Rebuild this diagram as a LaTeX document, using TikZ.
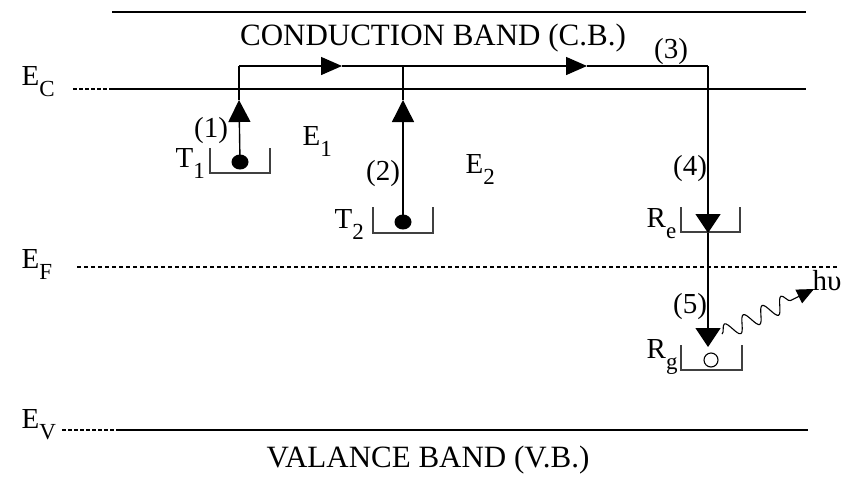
\documentclass[tikz,border=0pt]{standalone}
\usepackage{fontspec}
\setmainfont{Liberation Serif}
\usetikzlibrary{arrows.meta,decorations.pathmorphing,shapes.geometric}
\newcommand\sbx[1]{\raisebox{-0.38em}{\fontsize{23}{23}\selectfont #1}}
\begin{document}
\begin{tikzpicture}[x=1pt,y=-1pt,line width=1.4pt,
  lbl/.style={inner sep=0pt,font=\fontsize{29}{29}\selectfont},
  bandtxt/.style={inner sep=0pt,font=\fontsize{31}{31}\selectfont},
  tipup/.style={-{Triangle[length=22pt,width=22pt]}},
  tiph/.style={-{Triangle[length=21pt,width=18pt]}},
  tipdn/.style={-{Triangle[length=19pt,width=25pt]}},
  well/.style={line width=1.3pt,draw=black!75},
  dotted line/.style={dash pattern=on 4pt off 2pt,line width=1.2pt},
  fermi/.style={dash pattern=on 4pt off 3pt,line width=1.1pt}]
\useasboundingbox (0,0) rectangle (853,482);
% bands
\coordinate (cbL) at (112,12); \coordinate (cbR) at (806,12);
\draw (cbL) -- (cbR);
\node[bandtxt,anchor=base] (cbtxt) at (433,45) {CONDUCTION BAND (C.B.)};
\coordinate (ecD) at (73,89); \coordinate (ecL) at (112,89); \coordinate (ecR) at (806,89);
\draw[dotted line] (ecD) -- (ecL);
\draw (ecL) -- (ecR);
\coordinate (efL) at (77,267); \coordinate (efR) at (837,267);
\draw[fermi] (efL) -- (efR);
\coordinate (evD) at (62,430); \coordinate (evL) at (117,430); \coordinate (evR) at (808,430);
\draw[dotted line] (evD) -- (evL);
\draw (evL) -- (evR);
\node[bandtxt,anchor=base] (vbtxt) at (428,467) {VALANCE BAND (V.B.)};
% level labels
\node[lbl,anchor=base west] (ec) at (21,85) {E\sbx{C}};
\node[lbl,anchor=base west] (ef) at (21,268) {E\sbx{F}};
\node[lbl,anchor=base west] (ev) at (21,428) {E\sbx{V}};
% wells
\draw[well] (210,148) |- (270,173) -- (270,148);
\draw[well] (373,207) |- (433,233) -- (433,207);
\draw[well] (681,207) |- (740,232) -- (740,207);
\draw[well] (681,345) |- (742,370) -- (742,345);
% traps
\node[ellipse,fill=black,inner sep=0pt,minimum width=17pt,minimum height=15pt] (d1) at (240,162) {};
\node[ellipse,fill=black,inner sep=0pt,minimum width=17pt,minimum height=15pt] (d2) at (403,222) {};
\node[circle,draw=black,fill=white,line width=1.1pt,inner sep=0pt,minimum size=14pt] (hole) at (711,360) {};
% path
\coordinate (a1) at (239,100);
\coordinate (a2) at (403,100);
\coordinate (c1) at (239,66);
\coordinate (j2) at (403,66);
\coordinate (h1) at (342,66);
\coordinate (h2) at (587,66);
\coordinate (c3) at (708,66);
\coordinate (re) at (708,233);
\coordinate (rg) at (708,347);
\draw[tipup] (d1.center) -- (a1);
\draw (a1) -- (c1);
\draw[tipup] (d2.center) -- (a2);
\draw (a2) -- (j2);
\draw[tiph] (c1) -- (h1);
\draw[tiph] (h1) -- (h2);
\draw (h2) -- (c3);
\draw[tipdn] (c3) -- (re);
\draw[tipdn] (re) -- (rg);
% photon
\coordinate (w0) at (722,334);
\coordinate (w1) at (814,289);
\draw[line width=1.1pt,decorate,decoration={snake,amplitude=8pt,segment length=21pt,pre length=0pt,post length=20pt},-{Triangle[length=17pt,width=15pt]}] (w0) -- (w1);
\node[lbl,anchor=base west] (hv) at (812,290) {hυ};
% labels
\node[lbl] (l1) at (211,131) {(1)};
\node[lbl,anchor=base west] (t1) at (175,167) {T\sbx{1}};
\node[lbl,anchor=base west] (e1) at (302,145) {E\sbx{1}};
\node[lbl] (l2) at (383,174) {(2)};
\node[lbl,anchor=base west] (t2) at (334,228) {T\sbx{2}};
\node[lbl,anchor=base west] (e2) at (465,173) {E\sbx{2}};
\node[lbl] (l3) at (671,52) {(3)};
\node[lbl] (l4) at (690,169) {(4)};
\node[lbl,anchor=base west] (rel) at (646,227) {R\sbx{e}};
\node[lbl] (l5) at (690,307) {(5)};
\node[lbl,anchor=base west] (rgl) at (646,358) {R\sbx{g}};
\end{tikzpicture}
\end{document}
